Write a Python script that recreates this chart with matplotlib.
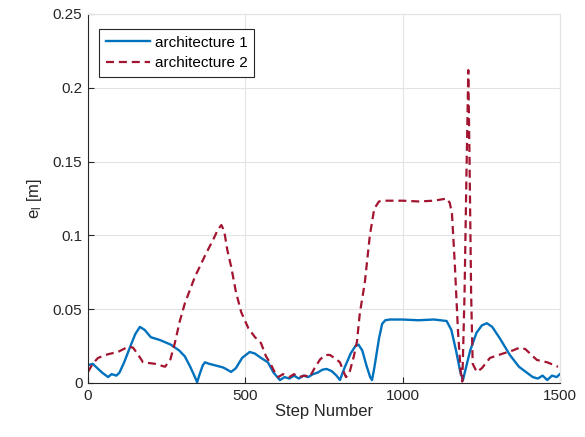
import matplotlib
matplotlib.use('Agg')
import matplotlib.pyplot as plt

# architecture 1 (solid blue)
steps_1 = [0, 15, 30, 45, 64, 75, 90, 100, 115, 135, 150, 165, 180, 200, 230, 263,
           290, 308, 325, 340, 347, 355, 365, 372, 385, 403, 430, 455, 470, 490, 514,
           530, 550, 572, 590, 610, 625, 640, 655, 670, 685, 700, 715, 730, 745, 759,
           775, 790, 801, 815, 835, 850, 860, 872, 885, 897, 903, 910, 925, 935, 945,
           960, 1000, 1050, 1100, 1140, 1155, 1170, 1183, 1192, 1200, 1215, 1235, 1252,
           1268, 1285, 1310, 1341, 1370, 1395, 1414, 1430, 1445, 1460, 1475, 1490, 1500]
err_1 = [0.012, 0.013, 0.010, 0.007, 0.004, 0.006, 0.005, 0.007, 0.014, 0.025, 0.033,
         0.038, 0.036, 0.031, 0.029, 0.026, 0.022, 0.018, 0.011, 0.004, 0.0005, 0.006,
         0.012, 0.014, 0.013, 0.012, 0.0105, 0.0075, 0.010, 0.017, 0.021, 0.020, 0.017,
         0.014, 0.007, 0.002, 0.004, 0.003, 0.005, 0.003, 0.005, 0.004, 0.006, 0.007,
         0.009, 0.0095, 0.008, 0.005, 0.002, 0.010, 0.020, 0.025, 0.026, 0.022, 0.012,
         0.004, 0.002, 0.010, 0.030, 0.040, 0.0425, 0.043, 0.043, 0.0425, 0.043, 0.042,
         0.036, 0.022, 0.008, 0.002, 0.009, 0.022, 0.034, 0.039, 0.0405, 0.038, 0.030,
         0.019, 0.011, 0.007, 0.004, 0.003, 0.005, 0.002, 0.005, 0.004, 0.006]

# architecture 2 (dashed red)
steps_2 = [0, 15, 32, 64, 95, 127, 143, 160, 175, 213, 245, 262, 276, 292, 308, 340,
           376, 400, 413, 424, 433, 443, 455, 470, 487, 510, 531, 550, 566, 578, 592,
           605, 620, 640, 655, 670, 690, 705, 720, 738, 755, 769, 790, 801, 812, 820,
           830, 845, 855, 864, 880, 896, 910, 925, 945, 1000, 1050, 1100, 1141, 1150,
           1157, 1166, 1176, 1186, 1190, 1197, 1203, 1209, 1213, 1218, 1223, 1236, 1252,
           1278, 1320, 1350, 1373, 1390, 1405, 1427, 1460, 1494]
err_2 = [0.0075, 0.013, 0.017, 0.0195, 0.021, 0.0245, 0.024, 0.019, 0.014, 0.013, 0.011,
         0.016, 0.027, 0.042, 0.054, 0.072, 0.088, 0.098, 0.104, 0.107, 0.103, 0.090,
         0.079, 0.062, 0.048, 0.037, 0.031, 0.027, 0.018, 0.014, 0.008, 0.004, 0.006,
         0.004, 0.006, 0.004, 0.005, 0.004, 0.010, 0.016, 0.019, 0.019, 0.016, 0.014,
         0.008, 0.004, 0.006, 0.018, 0.028, 0.047, 0.068, 0.100, 0.118, 0.123, 0.1235,
         0.1235, 0.123, 0.1235, 0.125, 0.122, 0.115, 0.081, 0.036, 0.004, 0.001, 0.06,
         0.14, 0.212, 0.15, 0.06, 0.013, 0.0075, 0.010, 0.017, 0.020, 0.022, 0.024,
         0.023, 0.020, 0.0156, 0.014, 0.011]

x_ticks = [0, 500, 1000, 1500]
y_ticks = [0, 0.05, 0.1, 0.15, 0.2, 0.25]
y_tick_labels = ['0', '0.05', '0.1', '0.15', '0.2', '0.25']

plt.rcParams['font.family'] = ['Liberation Sans', 'DejaVu Sans']
plt.rcParams['mathtext.fontset'] = 'custom'
plt.rcParams['mathtext.rm'] = 'Liberation Sans'
plt.rcParams['mathtext.it'] = 'Liberation Sans'

fig = plt.figure(figsize=(5.85, 4.37), dpi=100)
ax = fig.add_axes([0.1504, 0.1236, 0.8066, 0.8444])

ax.plot(steps_1, err_1, color='#0072BD', lw=1.7, label='architecture 1')
ax.plot(steps_2, err_2, color='#A2142F', lw=1.6, linestyle=(0, (3.6, 2.2)),
        label='architecture 2')

ax.set_xlim(0, 1500)
ax.set_ylim(0, 0.25)
ax.set_xticks(x_ticks)
ax.set_yticks(y_ticks)
ax.set_yticklabels(y_tick_labels)
ax.grid(True, color='#e3e3e3', lw=0.8)
ax.set_axisbelow(True)

for side in ['top', 'right']:
    ax.spines[side].set_color('#e3e3e3')
for side in ['left', 'bottom']:
    ax.spines[side].set_color('#262626')
    ax.spines[side].set_linewidth(0.8)
ax.tick_params(direction='in', length=4, width=0.8, colors='#262626', labelsize=11,
               top=False, right=False, pad=4)

ax.set_xlabel('Step Number', fontsize=12, color='#262626', labelpad=1)
ax.set_ylabel('e$_\\mathrm{l}$ [m]', fontsize=12, color='#262626', labelpad=6)

leg = ax.legend(loc='upper left', bbox_to_anchor=(0.023, 0.96), fontsize=11,
                fancybox=False, framealpha=1, edgecolor='#262626', handlelength=2.9,
                borderpad=0.45, labelspacing=0.45, handletextpad=0.3, borderaxespad=0)
leg.get_frame().set_linewidth(0.8)

fig.savefig('out.png', dpi=100)
